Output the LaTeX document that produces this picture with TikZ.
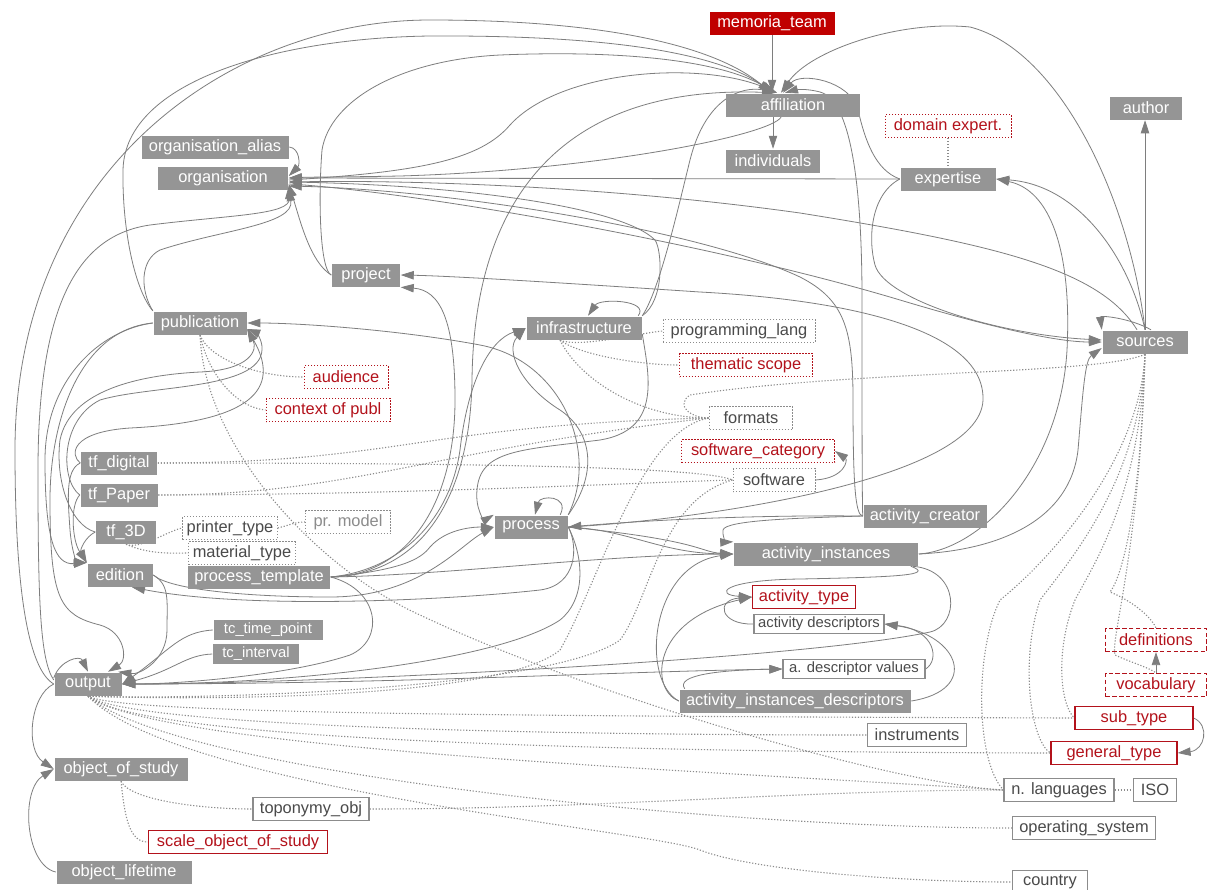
\documentclass[tikz,border=0pt]{standalone}
\usepackage{fontspec}
\setmainfont{Liberation Sans}
\usetikzlibrary{arrows.meta,backgrounds}
\definecolor{boxgray}{HTML}{959595}
\definecolor{teamred}{HTML}{C00000}
\definecolor{attrred}{HTML}{B3121B}
\definecolor{linegray}{HTML}{7E7E7E}
\definecolor{textgray}{HTML}{4A4A4A}
\definecolor{palegray}{HTML}{8C8C8C}
\tikzset{every picture/.style={line width=0.75pt}}
\tikzset{
  box/.style={minimum height=11.5pt, inner xsep=2pt, inner ysep=1pt, font=\fontsize{8.2}{9.5}\selectfont},
  bw/.style={minimum width=#1*0.5pt},
  smalltxt/.style={font=\fontsize{7.4}{8.5}\selectfont, minimum height=9.8pt},
  tbl/.style={box, fill=boxgray, text=white},
  tblred/.style={box, fill=teamred, text=white},
  attr/.style={box, draw=palegray, line width=0.5pt, dash pattern=on 0.6pt off 0.9pt, text=textgray},
  attrred/.style={box, draw=attrred, line width=0.5pt, dash pattern=on 0.6pt off 0.9pt, text=attrred},
  look/.style={box, draw=palegray, line width=0.6pt, text=textgray},
  lookred/.style={box, draw=attrred, line width=0.6pt, text=attrred},
  vocab/.style={box, draw=attrred, line width=0.6pt, dash pattern=on 2.2pt off 1.2pt, text=attrred},
  rel/.style={draw=linegray, -{Triangle[length=6.5pt,width=4.2pt]}},
  link/.style={draw=palegray, line width=0.55pt, dash pattern=on 0.6pt off 0.9pt}
}
\begin{document}
\begin{tikzpicture}[x=0.5pt, y=-0.5pt]
    \useasboundingbox (0,0) rectangle (1208,889);
    \node[tblred, bw=125] (memo) at (772,23) {memoria\_team};
    \node[tbl, bw=134] (aff) at (793,105) {affiliation};
    \node[tbl, bw=94] (indiv) at (773,161) {individuals};
    \node[tbl, bw=72] (author) at (1146,108) {author};
    \node[attrred, bw=126] (domexp) at (948,126) {domain expert.};
    \node[tbl, bw=95] (expert) at (948,179) {expertise};
    \node[tbl, bw=147] (orgalias) at (215,147) {organisation\_alias};
    \node[tbl, bw=130] (org) at (223,178) {organisation};
    \node[tbl, bw=68] (project) at (366,275) {project};
    \node[tbl, bw=93] (pub) at (200,323) {publication};
    \node[attrred, bw=84] (audience) at (346,377) {audience};
    \node[attrred, bw=124] (context) at (328,410) {context of publ};
    \node[tbl, bw=76] (tfdig) at (119,463) {tf\_digital};
    \node[tbl, bw=77] (tfpap) at (119,495) {tf\_Paper};
    \node[tbl, bw=60] (tfthree) at (126,532) {tf\_3D};
    \node[tbl, bw=65] (edition) at (120,575) {edition};
    \node[attr, bw=94] (printer) at (230,528) {printer\_type};
    \node[attr, bw=105] (material) at (242,553) {material\_type};
    \node[attr, bw=85, text=palegray] (prmodel) at (348,522) {pr. model};
    \node[tbl, bw=142] (ptemp) at (259,577) {process\_template};
    \node[tbl, bw=115] (infra) at (584,328) {infrastructure};
    \node[attr, bw=152] (proglang) at (739,331) {programming\_lang};
    \node[attrred, bw=133] (thematic) at (746,365) {thematic scope};
    \node[attr, bw=83] (formats) at (751,418) {formats};
    \node[attrred, bw=153] (swcat) at (758,451) {software\_category};
    \node[attr, bw=82] (software) at (774,480) {software};
    \node[tbl, bw=73] (process) at (531,527) {process};
    \node[tbl, bw=123] (actcreator) at (925,516) {activity\_creator};
    \node[tbl, bw=85] (sources) at (1145,342) {sources};
    \node[tbl, bw=184] (actinst) at (826,554) {activity\_instances};
    \node[lookred, bw=103] (acttype) at (804,597) {activity\_type};
    \node[look, smalltxt, bw=130] (actdesc) at (819,624) {activity descriptors};
    \node[look, smalltxt, bw=142] (adescval) at (854,669) {a. descriptor values};
    \node[tbl, bw=231] (actinstdesc) at (795,701) {activity\_instances\_descriptors};
    \node[look, bw=99] (instruments) at (917,735) {instruments};
    \node[vocab, bw=101] (definitions) at (1156,640) {definitions};
    \node[vocab, bw=101] (vocabulary) at (1156,685) {vocabulary};
    \node[lookred, bw=118] (subtype) at (1134,718) {sub\_type};
    \node[lookred, bw=126] (gentype) at (1114,753) {general\_type};
    \node[look, bw=110] (nlang) at (1059,790) {n. languages};
    \node[look, bw=43] (iso) at (1155,790) {ISO};
    \node[look, bw=143] (opsys) at (1084,828) {operating\_system};
    \node[look, bw=75] (country) at (1050,882) {country};
    \node[tbl, bw=67] (output) at (88,684) {output};
    \node[tbl, bw=133] (objstudy) at (121,769) {object\_of\_study};
    \node[tbl, bw=135] (objlife) at (124,872) {object\_lifetime};
    \node[look, bw=116] (toponymy) at (311,809) {toponymy\_obj};
    \node[lookred, bw=179] (scaleobj) at (238,842) {scale\_object\_of\_study};
    \node[tbl, smalltxt, bw=109] (tcpoint) at (268,630) {tc\_time\_point};
    \node[tbl, smalltxt, bw=86] (tcinterval) at (256,654) {tc\_interval};

    \begin{scope}[on background layer]
    \fill[white] (0,0) rectangle (1208,889);
    \draw[rel] (memo.south) -- (memo.south |- aff.north);
    \draw[rel] (indiv.north |- aff.south) -- (indiv.north);
    \draw[rel] (output.west) .. controls (30,670) and (15,600) .. (15,450) .. controls (15,170) and (230,20) .. (430,20) .. controls (620,20) and (720,50) .. ([xshift=-11pt]aff.north);
    \draw[rel] ([yshift=2pt]output.west) .. controls (40,660) and (38,600) .. (38,470) .. controls (38,300) and (80,235) .. (150,225) .. controls (230,215) and (290,215) .. ([yshift=-4pt]org.east);
    \draw[rel] (pub.north west) .. controls (135,290) and (122,230) .. (123,170) .. controls (125,80) and (280,38) .. (430,36) .. controls (620,35) and (720,55) .. ([xshift=-10pt]aff.north);
    \draw[rel] (pub.north west) .. controls (140,290) and (140,260) .. (160,250) .. controls (220,230) and (295,225) .. ([yshift=-5pt]org.east);
    \draw[rel] (project.west) .. controls (320,270) and (318,200) .. (322,150) .. controls (330,100) and (400,60) .. (500,55) .. controls (620,50) and (720,60) .. ([xshift=-9pt]aff.north);
    \draw[rel] (project.west) .. controls (310,262) and (300,220) .. ([yshift=-3pt]org.east);
    \draw[rel] ([yshift=-1pt]org.east) .. controls (420,172) and (480,160) .. (510,125) .. controls (560,70) and (700,60) .. ([xshift=-8pt]aff.north);
    \draw[rel] ([xshift=-6pt]aff.south) .. controls (770,135) and (600,170) .. (400,176) .. controls (350,177) and (310,177) .. (org.east);
    \draw[rel] (orgalias.east) .. controls (300,148) and (300,165) .. ([yshift=1pt]org.east);
    \draw[rel] (expert.west) -- (org.east);
    \draw[rel] ([xshift=-4pt]sources.north) .. controls (1100,270) and (1000,245) .. (800,213) .. controls (600,185) and (400,180) .. ([yshift=-2pt]org.east);
    \draw[rel] ([yshift=-3pt]org.east) .. controls (400,190) and (700,240) .. (900,300) .. controls (1000,330) and (1060,342) .. (sources.west);
    \draw[rel] (expert.west) .. controls (870,195) and (868,240) .. (875,265) .. controls (885,300) and (1000,335) .. ([yshift=1pt]sources.west);
    \draw[rel] (actcreator.west) .. controls (855,516) and (853,480) .. (853,400) .. controls (853,330) and (845,300) .. (800,277) .. controls (700,230) and (450,190) .. ([yshift=-4pt]org.east);
    \draw[rel] (actcreator.west) .. controls (862,500) and (862,400) .. (862,300) .. controls (862,180) and (850,100) .. (820,92) .. controls (805,88) and (795,90) .. ([xshift=-4pt]aff.north);
    \draw[rel] (expert.west) .. controls (875,170) and (865,140) .. (858,110) .. controls (850,80) and (800,72) .. ([xshift=-5pt]aff.north);
    \draw[rel] (sources.north) .. controls (1130,200) and (1060,50) .. (970,27) .. controls (900,20) and (810,50) .. ([xshift=-6pt]aff.north);
    \draw[rel] (infra.north east) .. controls (660,290) and (680,200) .. (690,160) .. controls (705,100) and (740,85) .. ([xshift=-8pt]aff.north);
    \draw[rel] (infra.north east) .. controls (665,300) and (662,250) .. (655,240) .. controls (620,205) and (450,185) .. ([yshift=-2pt]org.east);
    \draw[rel] (ptemp.east) .. controls (420,575) and (470,500) .. (472,380) .. controls (474,200) and (560,85) .. ([xshift=-9pt]aff.north);
    \draw[rel] (ptemp.east) .. controls (410,575) and (455,500) .. (455,400) .. controls (455,320) and (440,290) .. (project.south east);
    \draw[rel] (ptemp.east) .. controls (400,570) and (450,520) .. (460,450) .. controls (468,380) and (490,340) .. (infra.west);
    \draw[rel] (ptemp.east) .. controls (400,570) and (420,560) .. (430,547) .. controls (445,530) and (470,527) .. (process.west);
    \draw[rel] (ptemp.east) .. controls (450,575) and (600,555) .. (actinst.west);
    \draw[rel] (ptemp.east) .. controls (380,590) and (385,640) .. (350,655) .. controls (290,675) and (180,684) .. (output.east);
    \draw[rel] (edition.east) .. controls (170,590) and (250,597) .. (330,597) .. controls (420,597) and (460,545) .. (process.west);
    \draw[rel] (process.east) .. controls (578,545) and (578,585) .. (540,590) .. controls (450,600) and (250,610) .. ([xshift=6pt]edition.south);
    \draw[rel] (edition.east) .. controls (170,585) and (167,600) .. (167,630) .. controls (167,660) and (140,675) .. ([xshift=-2pt]output.north east);
    \draw[rel] (tcpoint.west) .. controls (180,632) and (170,650) .. (output.east);
    \draw[rel] (tcinterval.west) .. controls (185,655) and (175,670) .. (output.east);
    \draw[rel] (process.east) .. controls (585,560) and (585,600) .. (560,620) .. controls (500,660) and (300,684) .. (output.east);
    \draw[rel] ([xshift=-3pt]actinst.south east) .. controls (960,570) and (960,625) .. (930,632) .. controls (800,660) and (300,684) .. (output.east);
    \draw[rel] (output.east) .. controls (400,684) and (600,672) .. (adescval.west);
    \draw[rel] (pub.west) .. controls (80,330) and (50,420) .. (50,500) .. controls (50,600) and (60,615) .. (100,625) .. controls (125,632) and (128,660) .. ([xshift=10pt]output.north);
    \draw[rel] (pub.west) .. controls (100,330) and (45,380) .. (45,460) .. controls (45,540) and (55,565) .. (edition.north west);
    \draw[rel] (tfdig.west) .. controls (65,470) and (68,500) .. (70,530) .. controls (72,555) and (78,562) .. (edition.north west);
    \draw[rel] (tfpap.west) .. controls (70,505) and (72,540) .. (edition.north west);
    \draw[rel] (tfthree.west) .. controls (85,537) and (80,550) .. (edition.north west);
    \draw[rel] (tfdig.west) .. controls (70,455) and (70,432) .. (130,428) .. controls (250,422) and (282,390) .. ([yshift=-3pt]pub.east);
    \draw[rel] (tfpap.west) .. controls (60,480) and (60,420) .. (100,400) .. controls (150,385) and (260,390) .. (262,350) .. controls (263,340) and (255,332) .. ([yshift=-3pt]pub.east);
    \draw[rel] (tfthree.west) .. controls (70,525) and (55,480) .. (60,440) .. controls (70,390) and (140,375) .. (200,372) .. controls (250,370) and (258,350) .. ([yshift=-3pt]pub.east);
    \draw[rel] (process.north east) .. controls (600,450) and (560,360) .. (480,345) .. controls (400,330) and (300,323) .. (pub.east);
    \draw[rel] (process.east) .. controls (700,520) and (980,480) .. (983,400) .. controls (985,330) and (850,300) .. (700,292) .. controls (550,282) and (450,276) .. (project.east);
    \draw[rel] ([yshift=-3pt]infra.east) .. controls (650,380) and (660,430) .. (600,440) .. controls (520,450) and (480,450) .. (477,490) .. controls (475,510) and (485,520) .. (process.north west);
    \draw[rel] (process.north east) .. controls (600,470) and (590,430) .. (560,410) .. controls (520,385) and (505,350) .. (infra.west);
    \draw[rel] ([xshift=-2pt]infra.north east) .. controls (650,300) and (600,298) .. ([xshift=2pt]infra.north);
    \draw[rel] ([xshift=-4pt]process.north east) .. controls (570,495) and (540,495) .. ([xshift=2pt]process.north);
    \draw[rel] (actcreator.west) .. controls (750,515) and (650,520) .. (process.east);
    \draw[rel] (process.east) .. controls (630,530) and (660,553) .. (actinst.west);
    \draw[rel] (process.east) .. controls (700,540) and (700,552) .. (actinst.west);
    \draw[rel] (actcreator.west) .. controls (800,518) and (725,520) .. (723,530) .. controls (722,538) and (728,542) .. (actinst.north west);
    \draw[rel] (actinst.east) .. controls (1000,550) and (1070,520) .. (1078,450) .. controls (1083,390) and (1085,360) .. ([yshift=-3pt]sources.west);
    \draw[rel] (actinst.east) .. controls (980,550) and (1060,470) .. (1067,350) .. controls (1072,250) and (1050,190) .. (expert.east);
    \draw[rel] (sources.north) .. controls (1130,260) and (1080,185) .. (expert.east);
    \draw[rel] (sources.north) -- (sources.north |- author.south);
    \draw[rel] ([xshift=3pt]sources.north) .. controls (1130,318) and (1100,315) .. (sources.north west);
    \draw[rel] (software.east) .. controls (845,478) and (848,460) .. (swcat.east);
    \draw[rel] (vocabulary.north) -- (definitions.south);
    \draw[rel] (subtype.east) .. controls (1210,725) and (1205,750) .. (gentype.east);
    \draw[rel] ([yshift=3pt]output.west) .. controls (60,660) and (80,655) .. (output.north);
    \draw[rel] (output.west) .. controls (30,695) and (25,750) .. (objstudy.west);
    \draw[rel] (objlife.west) .. controls (25,865) and (20,790) .. (objstudy.west);
    \draw[rel] ([xshift=-4pt]actinst.south east) .. controls (935,575) and (900,577) .. (800,579) .. controls (720,580) and (715,595) .. (acttype.west);
    \draw[rel] (actinstdesc.west) .. controls (650,690) and (650,620) .. (acttype.west);
    \draw[rel] (actdesc.west) .. controls (720,625) and (715,600) .. (acttype.west);
    \draw[rel] (actinstdesc.east) .. controls (980,690) and (960,635) .. (actdesc.east);
    \draw[rel] (adescval.east) .. controls (940,660) and (935,630) .. (actdesc.east);
    \draw[rel] ([xshift=3pt]actinstdesc.north west) .. controls (675,675) and (720,670) .. (adescval.west);
    \draw[rel] (actinstdesc.west) .. controls (640,680) and (650,565) .. (actinst.west);

    \draw[link] (domexp.south) -- (expert.north);
    \draw[link] (pub.south) .. controls (210,360) and (260,377) .. (audience.west);
    \draw[link] (pub.south) .. controls (210,380) and (240,408) .. (context.west);
    \draw[link] (pub.south) .. controls (205,450) and (320,570) .. (420,615) .. controls (600,700) and (900,785) .. (nlang.west);
    \draw[link] (tfthree.south) .. controls (140,550) and (170,530) .. (printer.west);
    \draw[link] (tfthree.south) .. controls (150,555) and (175,553) .. (material.west);
    \draw[link] (printer.east) .. controls (290,525) and (295,522) .. (prmodel.west);
    \draw[link] ([xshift=-12pt]infra.south) .. controls (580,348) and (640,333) .. (proglang.west);
    \draw[link] ([xshift=-12pt]infra.south) .. controls (580,355) and (640,365) .. (thematic.west);
    \draw[link] ([xshift=-12pt]infra.south) .. controls (580,380) and (640,418) .. (formats.west);
    \draw[link] (sources.south) .. controls (1100,375) and (850,370) .. (690,395) .. controls (675,405) and (690,418) .. (formats.west);
    \draw[link] (tfdig.east) .. controls (400,463) and (420,425) .. (formats.west);
    \draw[link] (tfdig.east) .. controls (400,463) and (700,465) .. (software.west);
    \draw[link] (tfpap.east) .. controls (400,495) and (650,482) .. (software.west);
    \draw[link] (tfpap.east) .. controls (350,495) and (430,450) .. (formats.west);
    \draw[link] (formats.west) .. controls (640,430) and (600,580) .. (560,650) .. controls (500,700) and (200,700) .. ([xshift=2pt]output.south);
    \draw[link] (software.west) .. controls (660,500) and (650,600) .. (620,640) .. controls (550,690) and (200,700) .. (output.south);
    \draw[link] (output.south) .. controls (120,712) and (400,716) .. (subtype.west);
    \draw[link] (output.south) .. controls (130,725) and (500,735) .. (instruments.west);
    \draw[link] (output.south) .. controls (140,740) and (600,752) .. (gentype.west);
    \draw[link] (output.south) .. controls (160,750) and (700,770) .. (nlang.west);
    \draw[link] (output.south) .. controls (170,770) and (700,828) .. (opsys.west);
    \draw[link] (output.south) .. controls (180,790) and (650,830) .. (700,850) .. controls (750,870) and (900,882) .. (country.west);
    \draw[link] (toponymy.east) .. controls (600,809) and (800,790) .. (nlang.west);
    \draw[link] (objstudy.south) .. controls (130,800) and (200,809) .. (toponymy.west);
    \draw[link] (objstudy.south) .. controls (125,820) and (130,842) .. (scaleobj.west);
    \draw[link] (nlang.east) -- (iso.west);
    \draw[link] (sources.south) .. controls (1140,460) and (1050,560) .. (1000,600) .. controls (975,650) and (975,760) .. (nlang.west);
    \draw[link] (sources.south) .. controls (1140,480) and (1070,560) .. (1040,600) .. controls (1020,660) and (1030,740) .. (gentype.west);
    \draw[link] (sources.south) .. controls (1140,500) and (1090,570) .. (1075,600) .. controls (1055,650) and (1060,705) .. (subtype.west);
    \draw[link] (sources.south) .. controls (1140,520) and (1120,580) .. (1110,592) .. controls (1130,600) and (1150,615) .. (definitions.north);
    \draw[link] (sources.south) .. controls (1140,550) and (1110,640) .. (1115,655) .. controls (1130,662) and (1150,668) .. (vocabulary.north);
    \end{scope}
\end{tikzpicture}
\end{document}
